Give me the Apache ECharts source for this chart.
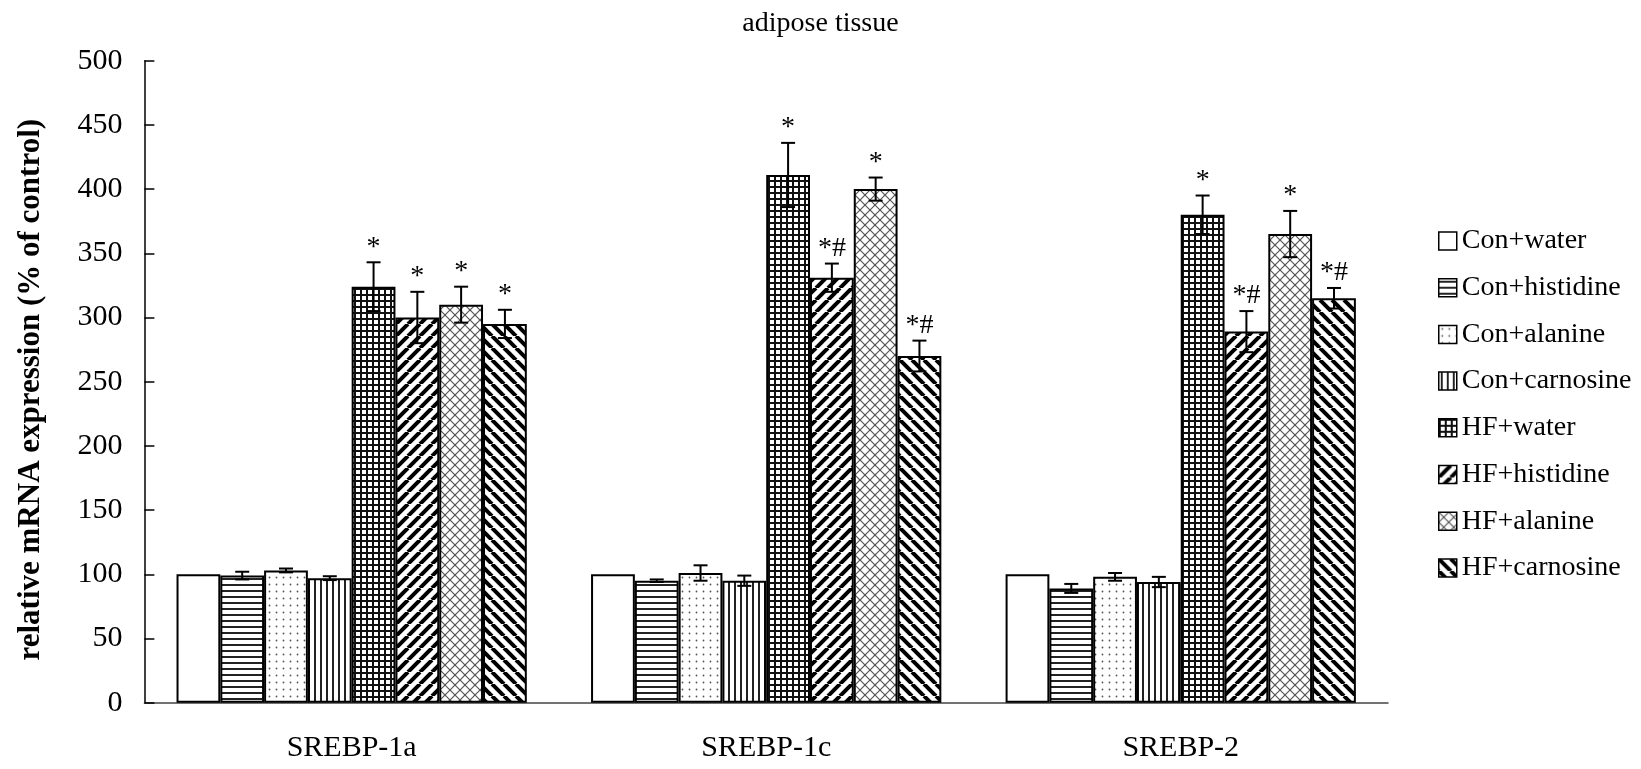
<!DOCTYPE html>
<html>
<head>
<meta charset="utf-8">
<script src="https://cdn.jsdelivr.net/npm/echarts@6/dist/echarts.min.js"></script>
<style>
html,body{margin:0;padding:0;background:#fff;}
#chart{width:1641px;height:769px;}
</style>
</head>
<body>
<div id="chart"></div>
<script>
// ---------- data ----------
const categories = ['SREBP-1a', 'SREBP-1c', 'SREBP-2'];
const seriesNames = ['Con+water', 'Con+histidine', 'Con+alanine', 'Con+carnosine',
                     'HF+water', 'HF+histidine', 'HF+alanine', 'HF+carnosine'];

const conWater = [100, 100, 100];
const conHistidine = [99, 95, 89];
const conAlanine = [103, 101, 98];
const conCarnosine = [97, 95, 94];
const hfWater = [324, 411, 380];
const hfHistidine = [300, 331, 289];
const hfAlanine = [310, 400, 365];
const hfCarnosine = [295, 270, 315];

const conWaterErr = [0, 0, 0];
const conHistidineErr = [3, 1, 3.5];
const conAlanineErr = [1.5, 6, 3];
const conCarnosineErr = [1.5, 4, 4];
const hfWaterErr = [19, 25, 15];
const hfHistidineErr = [20, 11, 16];
const hfAlanineErr = [14, 9, 18];
const hfCarnosineErr = [11, 12, 8];

const conWaterSig = ['', '', ''];
const conHistidineSig = ['', '', ''];
const conAlanineSig = ['', '', ''];
const conCarnosineSig = ['', '', ''];
const hfWaterSig = ['*', '*', '*'];
const hfHistidineSig = ['*', '*#', '*#'];
const hfAlanineSig = ['*', '*', '*'];
const hfCarnosineSig = ['*', '*#', '*#'];

const yTicks = { min: 0, max: 500, interval: 50 };

const allValues = [conWater, conHistidine, conAlanine, conCarnosine, hfWater, hfHistidine, hfAlanine, hfCarnosine];
const allErrors = [conWaterErr, conHistidineErr, conAlanineErr, conCarnosineErr, hfWaterErr, hfHistidineErr, hfAlanineErr, hfCarnosineErr];
const allSigs = [conWaterSig, conHistidineSig, conAlanineSig, conCarnosineSig, hfWaterSig, hfHistidineSig, hfAlanineSig, hfCarnosineSig];

// ---------- styles ----------
const FONT = '"Liberation Serif", "Times New Roman", serif';
const GAP_RATIO = 0.155;
const patternKinds = ['none', 'hlines', 'dots', 'vlines', 'grid', 'fdiag', 'diamond', 'bdiag'];

function makePattern(kind) {
  if (kind === 'none') return '#ffffff';
  const c = document.createElement('canvas');
  let s = 6;
  if (kind === 'fdiag' || kind === 'bdiag') s = 12;
  if (kind === 'diamond') s = 10;
  if (kind === 'dots') s = 7;
  c.width = s; c.height = s;
  const g = c.getContext('2d');
  g.fillStyle = '#fff';
  g.fillRect(0, 0, s, s);
  if (kind === 'hlines') {
    g.fillStyle = '#222';
    g.fillRect(0, 2, s, 2);
  } else if (kind === 'vlines') {
    g.fillStyle = '#222';
    g.fillRect(2, 0, 2, s);
  } else if (kind === 'grid') {
    g.fillStyle = '#111';
    g.fillRect(0, 0, s, 2);
    g.fillRect(0, 0, 2, s);
  } else if (kind === 'dots') {
    g.fillStyle = '#555';
    g.beginPath(); g.arc(3.5, 3.5, 0.9, 0, Math.PI * 2); g.fill();
  } else if (kind === 'fdiag' || kind === 'bdiag') {
    g.strokeStyle = '#000';
    g.lineWidth = 4;
    for (let k = -1; k <= 1; k++) {
      g.beginPath();
      if (kind === 'fdiag') { g.moveTo(k * s, s); g.lineTo(k * s + s, 0); }
      else { g.moveTo(k * s, 0); g.lineTo(k * s + s, s); }
      g.stroke();
    }
  } else if (kind === 'diamond') {
    g.strokeStyle = '#555';
    g.lineWidth = 1.2;
    for (let k = -1; k <= 1; k++) {
      g.beginPath(); g.moveTo(k * s, s); g.lineTo(k * s + s, 0); g.stroke();
      g.beginPath(); g.moveTo(k * s, 0); g.lineTo(k * s + s, s); g.stroke();
    }
  }
  return { image: c, repeat: 'repeat' };
}

const barSeries = seriesNames.map((name, i) => ({
  name: name,
  type: 'bar',
  data: allValues[i],
  barGap: '0%',
  barCategoryGap: (GAP_RATIO * 100) + '%',
  itemStyle: { color: makePattern(patternKinds[i]), borderColor: '#000', borderWidth: 2 },
  emphasis: { disabled: true },
  animation: false
}));

const errData = [];
const errSigs = [];
for (let s = 0; s < seriesNames.length; s++) {
  for (let c = 0; c < categories.length; c++) {
    errData.push([c, s, allValues[s][c], allErrors[s][c]]);
    errSigs.push(allSigs[s][c]);
  }
}

const errSeries = {
  type: 'custom',
  silent: true,
  animation: false,
  z: 5,
  data: errData,
  encode: { x: 0, y: 2 },
  renderItem: function (params, api) {
    const cat = api.value(0), si = api.value(1), val = api.value(2), err = api.value(3);
    const band = api.size([1, 0])[0];
    const groupW = band * (1 - GAP_RATIO);
    const bw = groupW / seriesNames.length;
    const center = api.coord([cat, 0])[0];
    const x = center - groupW / 2 + (si + 0.5) * bw;
    const yTop = api.coord([cat, val + err])[1];
    const yBot = api.coord([cat, val - err])[1];
    const cap = 7;
    const st = { stroke: '#000', lineWidth: 2 };
    const children = [];
    if (err > 0) {
      children.push({ type: 'line', shape: { x1: x, y1: yTop, x2: x, y2: yBot }, style: st });
      children.push({ type: 'line', shape: { x1: x - cap, y1: yTop, x2: x + cap, y2: yTop }, style: st });
      children.push({ type: 'line', shape: { x1: x - cap, y1: yBot, x2: x + cap, y2: yBot }, style: st });
    }
    const sig = errSigs[params.dataIndex];
    if (sig) {
      children.push({
        type: 'text',
        style: {
          text: sig, x: x, y: yTop - 1,
          align: 'center', verticalAlign: 'bottom',
          fontSize: 28, fontFamily: FONT, fill: '#000'
        }
      });
    }
    return { type: 'group', children: children };
  }
};

const chart = echarts.init(document.getElementById('chart'), null, { renderer: 'canvas' });
chart.setOption({
  backgroundColor: '#fff',
  animation: false,
  title: {
    text: 'adipose tissue',
    left: 'center',
    top: 5,
    textStyle: { fontFamily: FONT, fontSize: 28, fontWeight: 'normal', color: '#000' }
  },
  legend: {
    orient: 'vertical',
    left: 1433,
    top: 221,
    itemWidth: 18,
    itemHeight: 18,
    itemGap: 16.7,
    icon: 'rect',
    data: seriesNames,
    itemStyle: { borderColor: '#000', borderWidth: 1.5 },
    textStyle: { fontFamily: FONT, fontSize: 28, color: '#000', lineHeight: 30 }
  },
  grid: { left: 144.4, right: 253, top: 60.7, bottom: 66.3, containLabel: false },
  xAxis: {
    type: 'category',
    data: categories,
    axisLine: { lineStyle: { color: '#444', width: 1.5 } },
    axisTick: { inside: true, length: 10, lineStyle: { color: '#444', width: 1.5 } },
    axisLabel: { fontFamily: FONT, fontSize: 30, color: '#000', margin: 30 },
    splitLine: { show: false }
  },
  yAxis: {
    type: 'value',
    min: yTicks.min, max: yTicks.max, interval: yTicks.interval,
    name: 'relative mRNA expression (% of control)',
    nameLocation: 'middle',
    nameGap: 98,
    nameTextStyle: { fontFamily: FONT, fontSize: 31, fontWeight: 'bold', color: '#000', padding: [0, 16, 0, 0] },
    axisLine: { show: true, lineStyle: { color: '#000', width: 1.5 } },
    axisTick: { show: true, inside: true, length: 10, lineStyle: { color: '#000', width: 1.5 } },
    axisLabel: { fontFamily: FONT, fontSize: 30, color: '#000', margin: 22 },
    splitLine: { show: false }
  },
  series: barSeries.concat([errSeries])
});
</script>
</body>
</html>
